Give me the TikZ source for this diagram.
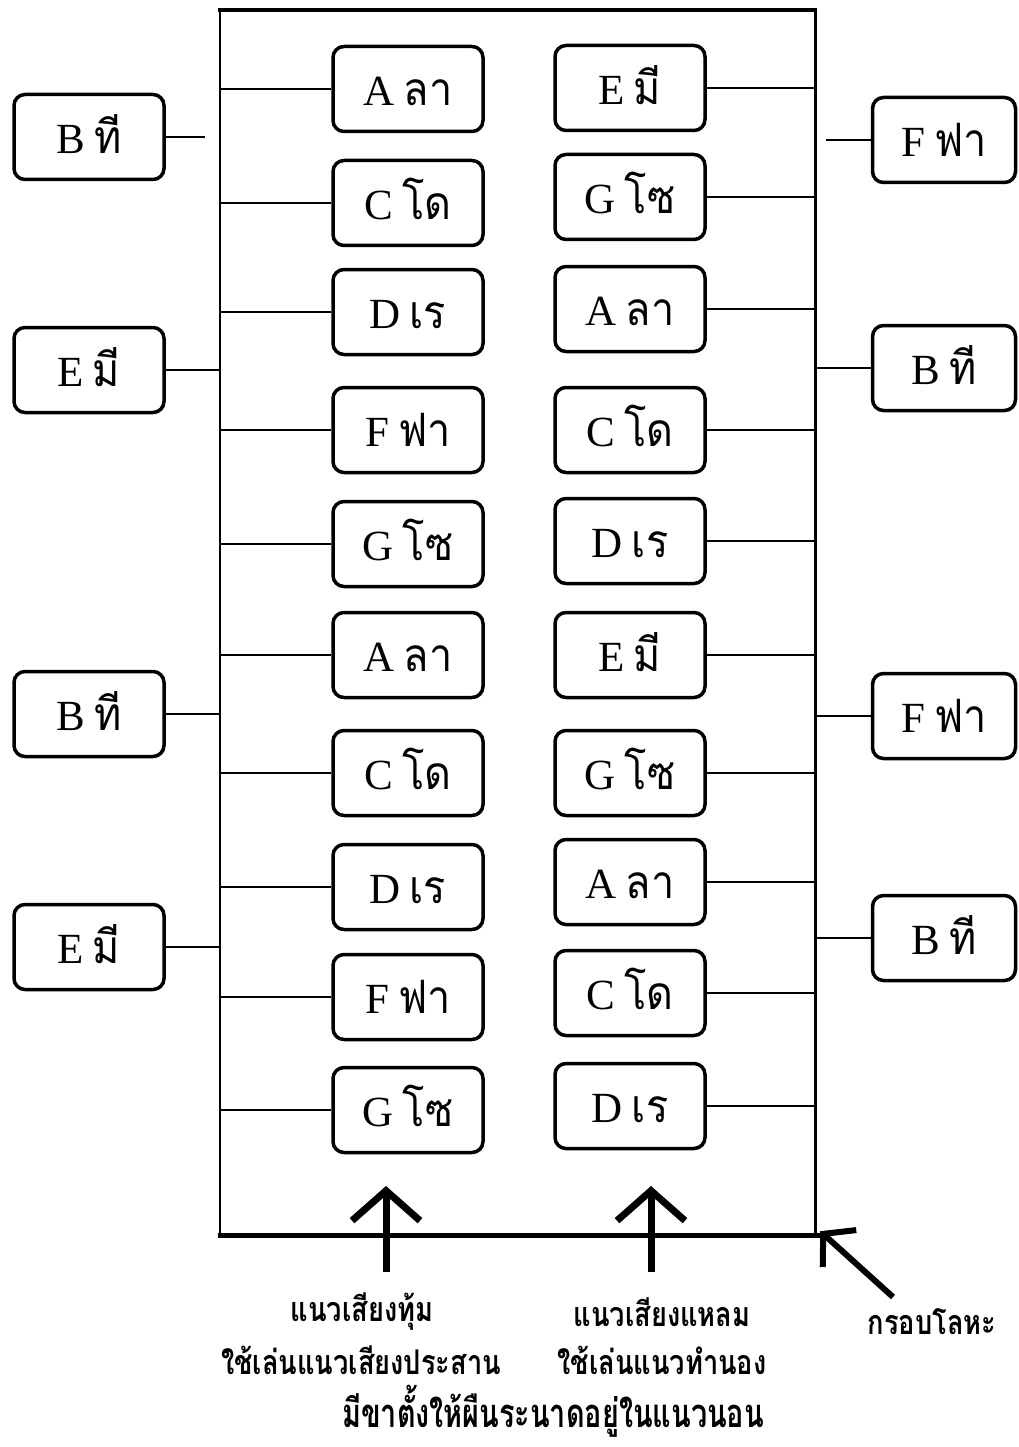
\documentclass[tikz,border=0pt]{standalone}
\usepackage{fontspec}
\setmainfont{Liberation Serif}
\newfontfamily\thaif[Script=Thai,Scale=1.07,FakeStretch=0.9]{Loma}
\newfontfamily\thaicond[Script=Thai,FakeStretch=0.8]{Loma}
\newfontfamily\thaititle[Script=Thai,FakeStretch=0.72]{Loma}
\usetikzlibrary{arrows.meta}
% a bar label: Latin note name followed by its Thai name
\newcommand\barname[2]{#1\hspace{9pt}{\thaif #2}\hspace{7pt}}
\begin{document}
\begin{tikzpicture}[x=1pt,y=-1pt,
  keybox/.style={draw, line width=3.5pt, rounded corners=11pt,
    minimum width=150pt, minimum height=85pt, inner sep=0pt,
    text height=33pt, text depth=0pt,
    font=\fontsize{43}{50}\selectfont},
  sidebox/.style={keybox, minimum width=#1},
  link/.style={line width=2.6pt},
  bigarrow/.style={line width=7pt, -{Straight Barb[length=30pt,width=68pt]}},
  caption/.style={font=\thaicond\bfseries\fontsize{34}{46}\selectfont, align=center, inner sep=0pt}]
\useasboundingbox (0,0) rectangle (1019,1447);

% metal frame
\node[minimum width=595pt, minimum height=1225pt, inner sep=0pt] (frame) at (517.5,622.5) {};
\draw[line width=2.6pt] (frame.north west) -- (frame.south west);
\draw[line width=2.6pt] (frame.north east) -- (frame.south east);
\draw[line width=4pt] ([xshift=-1.5pt]frame.north west) -- ([xshift=1.5pt]frame.north east);
\draw[line width=5pt] ([xshift=-1.5pt]frame.south west) -- ([xshift=7pt]frame.south east);

% bass row (left) of bars
\foreach \i/\y/\n/\t in {1/89/A/ลา, 2/203/C/โด, 3/312/D/เร, 4/430/F/ฟา, 5/544/G/โซ,
                         6/655/A/ลา, 7/773/C/โด, 8/887/D/เร, 9/997/F/ฟา, 10/1110/G/โซ}{
  \node[keybox] (L\i) at (408,\y) {\barname{\n}{\t}};
  \draw[link] (L\i.west) -- (L\i.west -| frame.west);
}
% treble row (right) of bars
\foreach \i/\y/\n/\t in {1/88/E/มี, 2/197/G/โซ, 3/309/A/ลา, 4/430/C/โด, 5/541/D/เร,
                         6/655/E/มี, 7/773/G/โซ, 8/882/A/ลา, 9/993/C/โด, 10/1106/D/เร}{
  \node[keybox] (R\i) at (630,\y) {\barname{\n}{\t}};
  \draw[link] (R\i.east) -- (R\i.east -| frame.east);
}

% bars outside the frame, left side
\node[sidebox=150pt] (OL1) at (89,137) {\barname{B}{ที}};
\node[sidebox=150pt] (OL2) at (89,370) {\barname{E}{มี}};
\node[sidebox=150pt] (OL3) at (89,714) {\barname{B}{ที}};
\node[sidebox=150pt] (OL4) at (89,947) {\barname{E}{มี}};
\coordinate (OL1end) at (205,137);
\draw[link] (OL1.east) -- (OL1end);
\foreach \i in {2,3,4} \draw[link] (OL\i.east) -- (OL\i.east -| frame.west);

% bars outside the frame, right side
\node[sidebox=143pt] (OR1) at (944,140) {\barname{F}{ฟา}};
\node[sidebox=143pt] (OR2) at (944,368) {\barname{B}{ที}};
\node[sidebox=143pt] (OR3) at (944,716) {\barname{F}{ฟา}};
\node[sidebox=143pt] (OR4) at (944,938) {\barname{B}{ที}};
\coordinate (OR1end) at (826,140);
\draw[link] (OR1end) -- (OR1.west);
\foreach \i in {2,3,4} \draw[link] (OR\i.west -| frame.east) -- (OR\i.west);

% pointers and captions
\coordinate (bassTail) at (386,1272);
\coordinate (bassTip) at (386,1186);
\coordinate (trebTail) at (651,1272);
\coordinate (trebTip) at (651,1186);
\coordinate (frameTail) at (893,1297);
\draw[bigarrow] (bassTail) -- (bassTip);
\draw[bigarrow] (trebTail) -- (trebTip);
\draw[line width=6pt, -{Straight Barb[length=22pt,width=50pt]}] (frameTail) -- ([shift={(5pt,4pt)}]frame.south east);

\node[caption] (bassCap) at (362,1312) {แนวเสียงทุ้ม};
\node[caption] (bassUse) at (361,1360) {ใช้เล่นแนวเสียงประสาน};
\node[caption] (trebCap) at (662,1312) {แนวเสียงแหลม};
\node[caption] (trebUse) at (662,1360) {ใช้เล่นแนวทำนอง};
\node[caption] (frameCap) at (932,1322) {กรอบโลหะ};
\node[caption, font=\thaititle\bfseries\fontsize{40}{48}\selectfont] (standCap) at (553,1411) {มีขาตั้งให้ผืนระนาดอยู่ในแนวนอน};
\end{tikzpicture}
\end{document}
